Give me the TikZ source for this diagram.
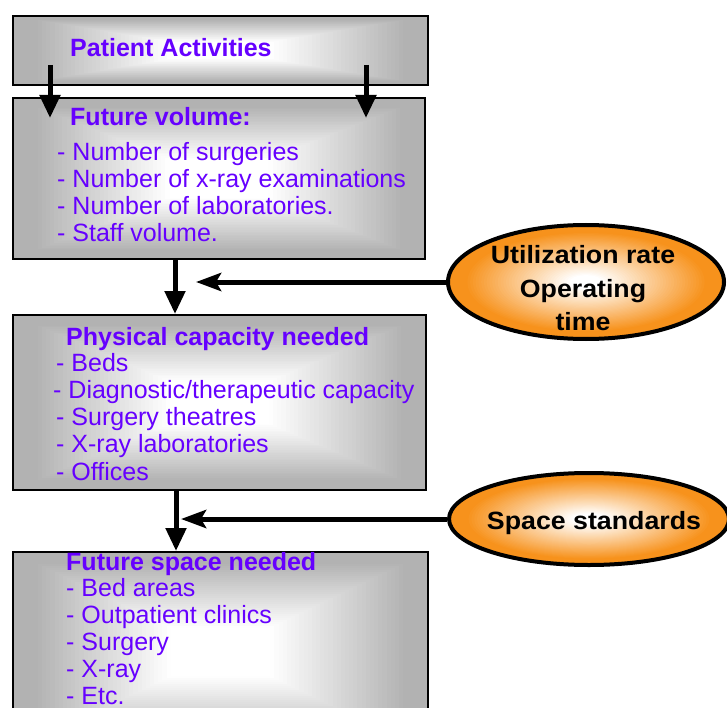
\documentclass[tikz,border=0pt]{standalone}
\usepackage{fontspec}
\setmainfont{Liberation Sans}
\newfontfamily\ellfont[FakeStretch=1.07]{Liberation Sans}
\usetikzlibrary{arrows.meta,shapes.geometric,calc}
\definecolor{txtpurple}{RGB}{102,0,255}
\definecolor{boxgray}{RGB}{178,178,178}
\definecolor{ellorange}{RGB}{247,146,28}
\tikzset{
  rectgrad/.style={path picture={
    \foreach \k in {50,49,...,1}{
      \pgfmathsetmacro{\rr}{\k/50}
      \pgfmathsetmacro{\mm}{min(100,max(0,(\rr-0.25)/0.65*100))}
      \fill[boxgray!\mm!white]
        ($(path picture bounding box.center)!\rr!(path picture bounding box.north west)$)
        rectangle
        ($(path picture bounding box.center)!\rr!(path picture bounding box.south east)$);
    }}},
  ellgrad/.style={path picture={
    \foreach \k in {50,49,...,1}{
      \pgfmathsetmacro{\rr}{\k/50}
      \pgfmathsetmacro{\mm}{min(100,max(0,(\rr-0.12)/0.76*100))}
      \fill[ellorange!\mm!white]
        let \p1=($(path picture bounding box.north east)-(path picture bounding box.center)$) in
        (path picture bounding box.center) ellipse [x radius={\rr*\x1}, y radius={\rr*abs(\y1)}];
    }}},
  gbox/.style={rectangle, draw=black, line width=2pt, rectgrad, anchor=north west, inner sep=0pt},
  oell/.style={ellipse, draw=black, line width=4pt, ellgrad, inner sep=0pt},
  txt/.style={anchor=base west, inner sep=0pt, text=txtpurple, font=\fontsize{25}{27}\selectfont},
  hdr/.style={anchor=base west, inner sep=0pt, text=txtpurple, font=\fontsize{25}{27}\selectfont\bfseries},
  etxt/.style={anchor=base, inner sep=0pt, text=black, font=\ellfont\fontsize{25}{33}\selectfont\bfseries},
  varr/.style={line width=5pt, -{Triangle[length=23pt,width=20pt]}},
  harr/.style={line width=5pt, -{Stealth[length=25pt,width=18pt,inset=5pt]}}
}
\begin{document}
\begin{tikzpicture}[x=1pt,y=-1pt]
\useasboundingbox (0,0) rectangle (727,708);
% boxes
\node[gbox, minimum width=415, minimum height=69] (b1) at (12,15) {};
\node[gbox, minimum width=412, minimum height=161] (b2) at (12,97) {};
\node[gbox, minimum width=413, minimum height=175] (b3) at (12,314) {};
\node[gbox, minimum width=415, minimum height=200] (b4) at (12,551) {};
% ellipses
\node[oell, minimum width=276, minimum height=114] (e1) at (586,282) {};
\node[oell, minimum width=280, minimum height=92] (e2) at (589,519) {};
% box texts
\node[hdr] (t1) at (70,57) {Patient Activities};
\node[hdr] (t2) at (70,126) {Future volume:};
\node[txt] (t2a) at (57,161) {- Number of surgeries};
\node[txt] (t2b) at (57,188) {- Number of x-ray examinations};
\node[txt] (t2c) at (57,215) {- Number of laboratories.};
\node[txt] (t2d) at (57,242) {- Staff volume.};
\node[hdr] (t3) at (66,345) {Physical capacity needed};
\node[txt] (t3a) at (56,371) {- Beds};
\node[txt] (t3b) at (53,398) {- Diagnostic/therapeutic capacity};
\node[txt] (t3c) at (56,425) {- Surgery theatres};
\node[txt] (t3d) at (56,452) {- X-ray laboratories};
\node[txt] (t3e) at (56,480) {- Offices};
\node[hdr] (t4) at (66,570) {Future space needed};
\node[txt] (t4a) at (66,596) {- Bed areas};
\node[txt] (t4b) at (66,623) {- Outpatient clinics};
\node[txt] (t4c) at (66,650) {- Surgery};
\node[txt] (t4d) at (66,677) {- X-ray};
\node[txt] (t4e) at (66,704) {- Etc.};
% ellipse texts
\node[etxt] (u1) at (583,264) {Utilization rate};
\node[etxt] (u2) at (583,298) {Operating};
\node[etxt] (u3) at (583,330) {time};
\node[etxt] (s1) at (594,529) {Space standards};
% arrows between first boxes
\coordinate (a1s) at (50,65);
\coordinate (a1e) at (50,118);
\coordinate (a2s) at (366,65);
\coordinate (a2e) at (366,118);
\draw[varr] (a1s) -- (a1e);
\draw[varr] (a2s) -- (a2e);
% arrow b2 -> b3
\coordinate (v1) at (175,0);
\draw[varr] (b2.south -| v1) -- (b3.north -| v1);
\coordinate (h1) at (196,0);
\draw[harr] (e1.west) -- (e1.west -| h1);
% arrow b3 -> b4
\coordinate (v2) at (176,0);
\draw[varr] (b3.south -| v2) -- (b4.north -| v2);
\coordinate (h2) at (181,0);
\draw[harr] (e2.west) -- (e2.west -| h2);
\end{tikzpicture}
\end{document}
